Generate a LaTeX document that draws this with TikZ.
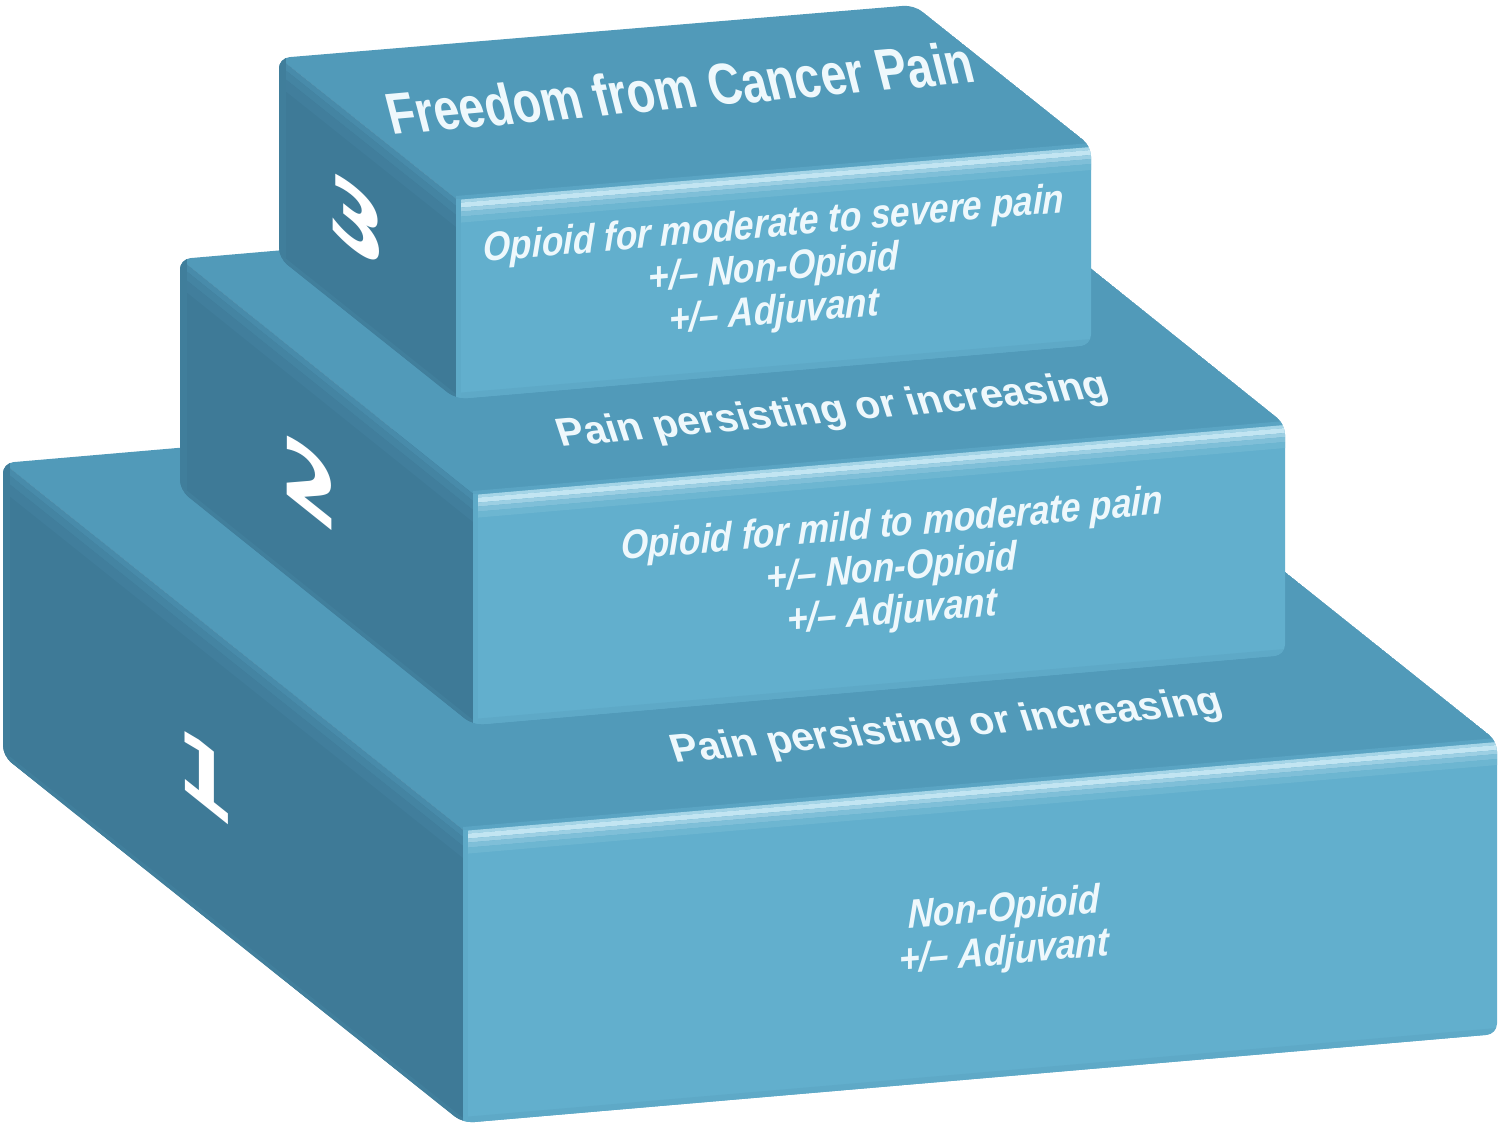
\documentclass[tikz,border=0pt]{standalone}
\usepackage{fontspec}
\setmainfont{Liberation Sans}
\newfontfamily\titlefont{Liberation Sans}[FakeStretch=0.78]
\newfontfamily\facefont{Liberation Sans}[FakeStretch=0.86]
\newfontfamily\numfont{DejaVu Sans}
\usetikzlibrary{calc}

\definecolor{frontc}{HTML}{62AFCD}
\definecolor{topc}{HTML}{519AB9}
\definecolor{sidec}{HTML}{3E7A97}
\definecolor{hilite}{HTML}{C2E5F2}
\definecolor{txtc}{HTML}{EEF8FC}

\newcommand{\bandstripe}[5]{%
  \fill[#1] ($(#2)+(0,#4)$) -- ($(#3)+(0,#4)$) -- ($(#3)+(0,#5)$) -- ($(#2)+(0,#5)$) -- cycle;}

\newcommand{\stepblock}[1]{%
  \begin{scope}
    \clip[rounded corners=3pt] (#1btl) -- (#1btr) -- (#1ftr) -- (#1fbr) -- (#1fbl) -- (#1bbl) -- cycle;
    \fill[topc] (#1btl) -- (#1btr) -- (#1ftr) -- (#1ftl) -- cycle;
    \fill[sidec] (#1btl) -- (#1ftl) -- (#1fbl) -- (#1bbl) -- cycle;
    \bandstripe{topc!55!sidec}{#1btl}{#1ftl}{0}{7}
    \bandstripe{topc!32!sidec}{#1btl}{#1ftl}{7}{16}
    \bandstripe{topc!14!sidec}{#1btl}{#1ftl}{16}{28}
    \fill[sidec!88!topc] (#1btl) rectangle ($(#1bbl)+(7,0)$);
    \bandstripe{sidec!85!topc}{#1bbl}{#1fbl}{-5}{0}
    \fill[frontc] (#1ftl) -- (#1ftr) -- (#1fbr) -- (#1fbl) -- cycle;
    \bandstripe{frontc!50!topc}{#1ftl}{#1ftr}{-3}{1}
    \bandstripe{hilite!70!frontc}{#1ftl}{#1ftr}{1}{4}
    \bandstripe{hilite}{#1ftl}{#1ftr}{4}{9}
    \bandstripe{hilite!60!frontc}{#1ftl}{#1ftr}{9}{13}
    \bandstripe{hilite!30!frontc}{#1ftl}{#1ftr}{13}{18}
    \bandstripe{hilite!12!frontc}{#1ftl}{#1ftr}{18}{24}
    \bandstripe{frontc!88!sidec}{#1fbl}{#1fbr}{-6}{0}
    \fill[frontc!90!sidec] (#1ftl) rectangle ($(#1fbl)+(5,0)$);
  \end{scope}}

\tikzset{
  facetext/.style={text=txtc, font=\facefont\bfseries\itshape\fontsize{11.6}{12.4}\selectfont,
    align=center, yslant=0.085, inner sep=0pt},
  toptext/.style={text=txtc, font=\bfseries\fontsize{11.4}{13}\selectfont,
    yslant=0.09, xslant=-0.32, inner sep=0pt},
  titletext/.style={text=txtc, font=\titlefont\bfseries\fontsize{16.7}{18}\selectfont,
    yslant=0.09, xslant=-0.25, inner sep=0pt},
  numtext/.style={text=white, font=\numfont\bfseries\fontsize{24}{25}\selectfont,
    yslant=-0.8, inner sep=0pt},
}

\begin{document}
\begin{tikzpicture}[x=0.1mm,y=-0.1mm]
\useasboundingbox (0,0) rectangle (1500,1125);
\fill[white] (0,0) rectangle (1500,1125);

% step 1 (bottom)
\coordinate (b1btl) at (3,463);
\coordinate (b1btr) at (1037,374);
\coordinate (b1ftr) at (1497,741);
\coordinate (b1ftl) at (463,830);
\coordinate (b1fbl) at (463,1123);
\coordinate (b1fbr) at (1497,1034);
\coordinate (b1bbl) at (3,756);
% step 2
\coordinate (b2btl) at (180,259);
\coordinate (b2btr) at (992,189);
\coordinate (b2ftr) at (1285,424);
\coordinate (b2ftl) at (473,494);
\coordinate (b2fbl) at (473,725);
\coordinate (b2fbr) at (1285,655);
\coordinate (b2bbl) at (180,490);
% step 3 (top)
\coordinate (b3btl) at (279,58);
\coordinate (b3btr) at (914,5);
\coordinate (b3ftr) at (1091,146);
\coordinate (b3ftl) at (456,199);
\coordinate (b3fbl) at (456,399);
\coordinate (b3fbr) at (1091,345);
\coordinate (b3bbl) at (279,258);

\stepblock{b1}
\stepblock{b2}
\stepblock{b3}

% numbers on the side faces
\node[numtext] (n3) at (357,220) {3};
\node[numtext] (n2) at (310,482) {2};
\node[numtext] (n1) at (205,775) {1};

% texts on the top faces
\node[titletext] (title) at (680,88) {Freedom from Cancer Pain};
\node[toptext] (p2) at (833,412) {Pain persisting or increasing};
\node[toptext] (p1) at (947,728) {Pain persisting or increasing};

% texts on the front faces
\node[facetext] (f3) at (774,270) {Opioid for moderate to severe pain\\+/– Non-Opioid\\+/– Adjuvant};
\node[facetext] (f2) at (892,570) {Opioid for mild to moderate pain\\+/– Non-Opioid\\+/– Adjuvant};
\node[facetext] (f1) at (1004,932) {Non-Opioid\\+/– Adjuvant};
\end{tikzpicture}
\end{document}
